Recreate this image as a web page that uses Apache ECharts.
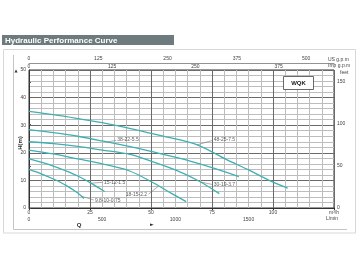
<!DOCTYPE html>
<html><head><meta charset="utf-8">
<script src="https://cdn.jsdelivr.net/npm/echarts@6/dist/echarts.min.js"></script>
<style>html,body{margin:0;padding:0;background:#fff}#c{width:360px;height:270px}</style>
</head><body><div id="c"></div>
<script>
// ---- data (flow Q in m3/h, head H in m) ----
const curveNames = ['48-25-7.5','38-22-5.5','30-19-3.7','18-15-2.2','15-12-1.5','9.8-10-0.75'];
const curve48 = [[0,35],[10,33.8],[20,32.4],[30,30.9],[43,28.5],[55,26],[69,22.9],[81,17.5],[90,13.8],[98,10.2],[106,7.2]];
const curve38 = [[0,28.4],[10,27.3],[20,26],[30,24.3],[41,22.3],[50,20.5],[64,17.5],[75,14.6],[86,11.4]];
const curve30 = [[0,24],[10,23.3],[20,22.3],[30,21],[41,19.5],[50,17],[60,13.8],[70,9.6],[78,5.2]];
const curve18 = [[0,21],[10,19.6],[20,17.8],[30,16],[41,13.5],[50,9.6],[58,5.5],[64.4,2.3]];
const curve15 = [[0,17.8],[5,16.6],[10,15.2],[15,13.5],[20,11.6],[25,9.2],[31,6]];
const curve98 = [[0,14],[5,12.4],[10,10.5],[15,8.3],[20,5.4],[22.5,3.4]];
const curves = [curve48, curve38, curve30, curve18, curve15, curve98];

// label annotations (data coordinates)
const labelAt    = [[75.5,24.6],[36,24.6],[75.5,8.4],[48.6,4.8],[30.5,9.3],[26.8,2.8]];
const labelSide  = ['right','right','right','left','right','right'];
const leaderFrom = [[69,22.9],[32,23.9],[70.5,9.4],[53,7.9],[25.5,9.0],[21.5,4.3]];
const leaderTo   = [[75.2,24.5],[35.7,24.5],[75.2,8.5],[49,5.0],[30.2,9.3],[26.5,2.9]];

// axis ranges
const qMax = 125;              // m3/h
const hMax = 50;               // m
const lpmMax = qMax*1000/60;   // L/min
const usMax = qMax*4.40287;    // US gpm
const impMax = qMax*3.66615;   // Imp gpm
const ftMax = hMax*3.28084;    // feet

const FONT = 'Liberation Sans';
const curveColor = '#3fb0b2';
const lbl = {fontSize:5, color:'#444', fontFamily:FONT};
const every = step => v => (Math.abs(v/step - Math.round(v/step)) < 1e-6 ? String(Math.round(v)) : '');

const chart = echarts.init(document.getElementById('c'), null, {renderer:'canvas'});
const series = curves.map((d,i)=>({
  type:'line', name:curveNames[i], data:d, smooth:0.3, showSymbol:false, symbol:'none',
  lineStyle:{color:curveColor, width:1.3}, silent:true, z:3
}));
series.push({
  type:'lines', coordinateSystem:'cartesian2d', silent:true, z:4,
  lineStyle:{color:'#777', width:0.6, opacity:1},
  data: leaderFrom.map((p,i)=>({coords:[p, leaderTo[i]]}))
});
series.push({
  type:'scatter', symbolSize:1, silent:true, z:5,
  itemStyle:{color:'transparent'},
  data: labelAt.map((p,i)=>({value:p, name:curveNames[i],
    label:{show:true, formatter:curveNames[i], position:labelSide[i], distance:0,
      fontSize:5, color:'#333', fontFamily:FONT}}))
});

chart.setOption({
  animation:false,
  grid:{left:29, right:26, top:70, bottom:62, show:true, borderColor:'#333', borderWidth:1, backgroundColor:'#fff'},
  xAxis:[
    {type:'value', position:'bottom', min:0, max:qMax, interval:25,
     axisLine:{show:true, lineStyle:{color:'#333'}}, axisTick:{show:true, length:2, lineStyle:{color:'#333'}},
     axisLabel:Object.assign({margin:2, showMaxLabel:true, formatter:v=>v===qMax?'m³/h':String(v)}, lbl),
     splitLine:{show:true, lineStyle:{color:'#6a6a6a', width:1}},
     minorTick:{show:true, splitNumber:5, length:0},
     minorSplitLine:{show:true, lineStyle:{color:'#bdbdbd', width:1}}},
    {type:'value', position:'bottom', min:0, max:lpmMax, interval:500,
     axisLine:{show:false}, axisTick:{show:false}, splitLine:{show:false},
     axisLabel:Object.assign({margin:9, showMaxLabel:false, formatter:v=>v>=2000?'':every(500)(v)}, lbl)},
    {type:'value', position:'top', offset:7, min:0, max:usMax, interval:125,
     axisLine:{show:true, lineStyle:{color:'#777', width:0.8}}, axisTick:{show:false}, splitLine:{show:false},
     axisLabel:Object.assign({margin:2, showMaxLabel:false, formatter:every(125)}, lbl)},
    {type:'value', position:'top', offset:0, min:0, max:impMax, interval:125,
     axisLine:{show:false}, axisTick:{show:false}, splitLine:{show:false},
     axisLabel:Object.assign({margin:1, showMaxLabel:false, formatter:every(125)}, lbl)}
  ],
  yAxis:[
    {type:'value', position:'left', min:0, max:hMax, interval:10,
     axisLine:{show:true, lineStyle:{color:'#333'}}, axisTick:{show:false},
     axisLabel:Object.assign({margin:3}, lbl),
     splitLine:{show:true, lineStyle:{color:'#6a6a6a', width:1}},
     minorTick:{show:true, splitNumber:5, length:0},
     minorSplitLine:{show:true, lineStyle:{color:'#bdbdbd', width:1}}},
    {type:'value', position:'right', min:0, max:ftMax, interval:50,
     axisLine:{show:false}, axisTick:{show:true, length:2, lineStyle:{color:'#555'}},
     splitLine:{show:false}, axisLabel:Object.assign({margin:3, showMaxLabel:false, formatter:every(50)}, lbl)}
  ],
  graphic:[
    {type:'rect', z:-10, shape:{x:3.5,y:49.5,width:352,height:183.5}, style:{fill:'none', stroke:'#d8d8d8', lineWidth:1}},
    {type:'polyline', z:-10, shape:{points:[[13.5,55],[13.5,229.5],[347,229.5]]}, style:{fill:'none', stroke:'#c4c4c4', lineWidth:1}},
    {type:'rect', shape:{x:2,y:35,width:172,height:10}, style:{fill:'#6e7b7e'}},
    {type:'text', x:5, y:40.5, style:{text:'Hydraulic Performance Curve', fill:'#fff', font:'bold 8px '+FONT, verticalAlign:'middle'}},
    {type:'text', x:328, y:60, style:{text:'US g.p.m', fill:'#444', font:'5px '+FONT, verticalAlign:'middle'}},
    {type:'text', x:328, y:66, style:{text:'Imp g.p.m', fill:'#444', font:'5px '+FONT, verticalAlign:'middle'}},
    {type:'text', x:340, y:73, style:{text:'feet', fill:'#444', font:'5px '+FONT, verticalAlign:'middle'}},
    {type:'text', x:332, y:219, style:{text:'L/min', fill:'#444', font:'5px '+FONT, verticalAlign:'middle', align:'center'}},
    {type:'text', x:79, y:225, style:{text:'Q', fill:'#333', font:'bold 6px '+FONT, verticalAlign:'middle', align:'center'}},
    {type:'text', x:152, y:225, style:{text:'►', fill:'#333', font:'5px DejaVu Sans', verticalAlign:'middle', align:'center'}},
    {type:'text', x:16, y:71, style:{text:'▲', fill:'#333', font:'4px DejaVu Sans', verticalAlign:'middle', align:'center'}},
    {type:'text', x:20, y:143, rotation:Math.PI/2, style:{text:'H(m)', fill:'#333', font:'bold 6px '+FONT, verticalAlign:'middle', align:'center'}},
    {type:'rect', z:10, shape:{x:283.5,y:76.5,width:30,height:13}, style:{fill:'#fff', stroke:'#444', lineWidth:0.8}},
    {type:'text', z:11, x:298.5, y:83, style:{text:'WQK', fill:'#222', font:'bold 6px '+FONT, verticalAlign:'middle', align:'center'}}
  ],
  series:series
});
</script></body></html>
